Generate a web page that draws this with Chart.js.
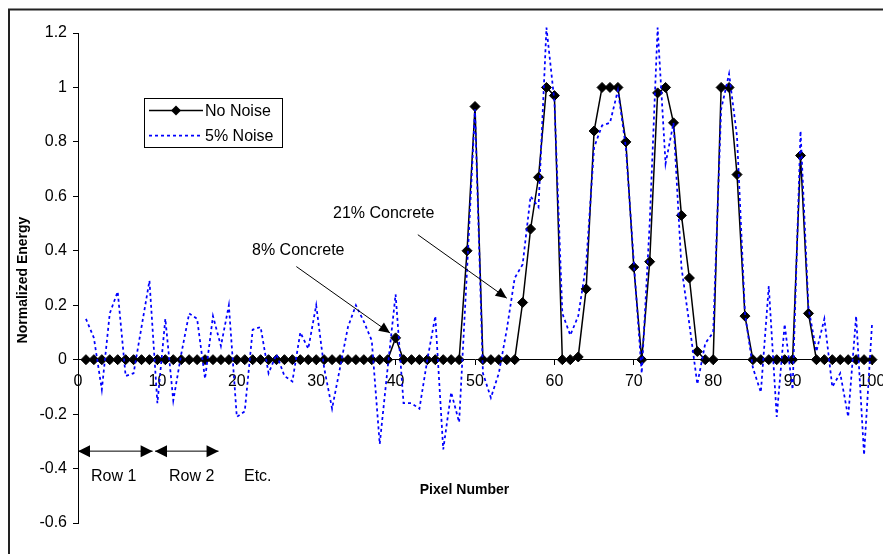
<!DOCTYPE html>
<html>
<head>
<meta charset="utf-8">
<title>Normalized Energy vs Pixel Number</title>
<script src="https://cdn.jsdelivr.net/npm/chart.js@4.4.1/dist/chart.umd.min.js"></script>
<style>
  html, body { margin: 0; padding: 0; background: #ffffff; }
  canvas { display: block; }
</style>
</head>
<body>
<canvas id="chart" width="883" height="554"></canvas>
<script>
// Pixel index along the scan (row 1 = pixels 1-10, row 2 = 11-20, ...)
const pixelNumbers = [
  1, 2, 3, 4, 5, 6, 7, 8, 9, 10,
  11, 12, 13, 14, 15, 16, 17, 18, 19, 20,
  21, 22, 23, 24, 25, 26, 27, 28, 29, 30,
  31, 32, 33, 34, 35, 36, 37, 38, 39, 40,
  41, 42, 43, 44, 45, 46, 47, 48, 49, 50,
  51, 52, 53, 54, 55, 56, 57, 58, 59, 60,
  61, 62, 63, 64, 65, 66, 67, 68, 69, 70,
  71, 72, 73, 74, 75, 76, 77, 78, 79, 80,
  81, 82, 83, 84, 85, 86, 87, 88, 89, 90,
  91, 92, 93, 94, 95, 96, 97, 98, 99, 100
];

// Normalized energy without noise
const noNoise = [
  0, 0, 0, 0, 0, 0, 0, 0, 0, 0,
  0, 0, 0, 0, 0, 0, 0, 0, 0, 0,
  0, 0, 0, 0, 0, 0, 0, 0, 0, 0,
  0, 0, 0, 0, 0, 0, 0, 0, 0, 0.08,
  0, 0, 0, 0, 0, 0, 0, 0, 0.40, 0.93,
  0, 0, 0, 0, 0, 0.21, 0.48, 0.67, 1.00, 0.97,
  0, 0, 0.01, 0.26, 0.84, 1.00, 1.00, 1.00, 0.80, 0.34,
  0, 0.36, 0.98, 1.00, 0.87, 0.53, 0.30, 0.03, 0, 0,
  1.00, 1.00, 0.68, 0.16, 0, 0, 0, 0, 0, 0,
  0.75, 0.17, 0, 0, 0, 0, 0, 0, 0, 0
];

// Normalized energy with 5% noise added
const fivePctNoise = [
  0.15, 0.08, -0.11, 0.17, 0.25, -0.06, -0.05, 0.12, 0.29, -0.16,
  0.15, -0.15, 0.02, 0.17, 0.15, -0.07, 0.16, 0.05, 0.20, -0.21,
  -0.19, 0.11, 0.12, -0.05, 0.02, -0.06, -0.08, 0.10, 0.04, 0.20,
  -0.03, -0.18, -0.03, 0.12, 0.20, 0.14, 0.07, -0.31, -0.03, 0.24,
  -0.16, -0.16, -0.18, 0.00, 0.16, -0.33, -0.12, -0.23, 0.33, 0.92,
  -0.05, -0.14, -0.05, 0.11, 0.30, 0.35, 0.60, 0.56, 1.22, 0.95,
  0.17, 0.09, 0.16, 0.35, 0.78, 0.86, 0.87, 0.99, 0.78, 0.36,
  -0.05, 0.50, 1.22, 0.72, 0.87, 0.34, 0.13, -0.09, 0.06, 0.10,
  0.92, 1.05, 0.82, 0.17, -0.03, -0.12, 0.27, -0.21, 0.13, -0.11,
  0.84, 0.19, 0.03, 0.15, -0.10, -0.05, -0.21, 0.16, -0.35, 0.13
];

const seriesNames = ['No Noise', '5% Noise'];
const xTicks = [0, 10, 20, 30, 40, 50, 60, 70, 80, 90, 100];
const yTicks = [-0.6, -0.4, -0.2, 0, 0.2, 0.4, 0.6, 0.8, 1, 1.2];
const yTickLabels = ['-0.6', '-0.4', '-0.2', '0', '0.2', '0.4', '0.6', '0.8', '1', '1.2'];
const xTitle = 'Pixel Number';
const yTitle = 'Normalized Energy';
const concreteNotes = ['8% Concrete', '21% Concrete'];
const rowNotes = ['Row 1', 'Row 2', 'Etc.'];

const FONT = '"Liberation Sans", Arial, Helvetica, sans-serif';
const INK = '#000000';
const NOISE_BLUE = '#0000ff';

function toPoints(values) {
  return pixelNumbers.map((p, i) => ({ x: p, y: values[i] }));
}

// Filled-head arrow from (x1,y1) to (x2,y2); optional head at the start too
function arrow(ctx, x1, y1, x2, y2, headLen, headHalf, both) {
  const ang = Math.atan2(y2 - y1, x2 - x1);
  const head = (tx, ty, a) => {
    ctx.beginPath();
    ctx.moveTo(tx, ty);
    ctx.lineTo(tx - headLen * Math.cos(a) + headHalf * Math.sin(a),
               ty - headLen * Math.sin(a) - headHalf * Math.cos(a));
    ctx.lineTo(tx - headLen * Math.cos(a) - headHalf * Math.sin(a),
               ty - headLen * Math.sin(a) + headHalf * Math.cos(a));
    ctx.closePath();
    ctx.fill();
  };
  ctx.beginPath();
  ctx.moveTo(x1, y1);
  ctx.lineTo(x2, y2);
  ctx.stroke();
  head(x2, y2, ang);
  if (both) head(x1, y1, ang + Math.PI);
}

// Frame, axis titles, legend and annotations
const decorations = {
  id: 'decorations',
  afterDraw(chart) {
    const { ctx, scales: { x, y } } = chart;
    const px = v => x.getPixelForValue(v);
    const py = v => y.getPixelForValue(v);
    ctx.save();

    // outer frame
    ctx.strokeStyle = '#222222';
    ctx.lineWidth = 2;
    ctx.strokeRect(9, 9.5, 900, 600);

    // axis titles
    ctx.fillStyle = INK;
    ctx.font = 'bold 14px ' + FONT;
    ctx.textAlign = 'center';
    ctx.textBaseline = 'middle';
    ctx.fillText(xTitle, 464.5, 490);
    ctx.save();
    ctx.translate(23, 280);
    ctx.rotate(-Math.PI / 2);
    ctx.fillText(yTitle, 0, 0);
    ctx.restore();

    // legend
    const ds = chart.data.datasets;
    ctx.lineWidth = 1;
    ctx.strokeStyle = INK;
    ctx.strokeRect(144.5, 98.5, 138, 49);
    ctx.font = '16px ' + FONT;
    ctx.textAlign = 'left';
    const rows = [110.5, 135.5];
    ds.forEach((d, i) => {
      const ly = rows[i];
      ctx.save();
      ctx.strokeStyle = d.borderColor;
      ctx.lineWidth = d.borderWidth;
      ctx.setLineDash(d.borderDash || []);
      ctx.beginPath();
      ctx.moveTo(149, ly);
      ctx.lineTo(203, ly);
      ctx.stroke();
      ctx.restore();
      if (d.pointRadius > 0) {
        const r = d.pointRadius;
        ctx.fillStyle = d.pointBackgroundColor;
        ctx.beginPath();
        ctx.moveTo(176, ly - r);
        ctx.lineTo(176 + r, ly);
        ctx.lineTo(176, ly + r);
        ctx.lineTo(176 - r, ly);
        ctx.closePath();
        ctx.fill();
      }
      ctx.fillStyle = INK;
      ctx.fillText(d.label, 205, ly + 1);
    });

    // concrete annotations
    ctx.fillStyle = INK;
    ctx.strokeStyle = INK;
    ctx.lineWidth = 1;
    ctx.font = '16px ' + FONT;
    ctx.textAlign = 'left';
    ctx.fillText(concreteNotes[0], 252, 251);
    ctx.fillText(concreteNotes[1], 333, 214);
    arrow(ctx, px(27.5), py(0.342), px(39.3), py(0.098), 11, 5, false);
    arrow(ctx, px(42.8), py(0.459), px(54.0), py(0.226), 11, 5, false);

    // row spans
    arrow(ctx, px(0), py(-0.336), px(9.4), py(-0.336), 12, 6, true);
    arrow(ctx, px(9.7), py(-0.336), px(17.7), py(-0.336), 12, 6, true);
    ctx.fillText(rowNotes[0], 91, 477);
    ctx.fillText(rowNotes[1], 169, 477);
    ctx.fillText(rowNotes[2], 244, 477);

    ctx.restore();
  }
};

new Chart(document.getElementById('chart'), {
  type: 'line',
  data: {
    datasets: [
      {
        label: seriesNames[0],
        data: toPoints(noNoise),
        borderColor: INK,
        backgroundColor: INK,
        borderWidth: 1.5,
        pointStyle: 'rectRot',
        pointRadius: 5,
        pointBorderWidth: 1,
        pointBackgroundColor: INK,
        pointBorderColor: INK,
        tension: 0,
        order: 1,
        clip: false
      },
      {
        label: seriesNames[1],
        data: toPoints(fivePctNoise),
        borderColor: NOISE_BLUE,
        backgroundColor: NOISE_BLUE,
        borderWidth: 1.75,
        borderDash: [3, 3],
        pointRadius: 0,
        tension: 0,
        order: 0,
        clip: false
      }
    ]
  },
  options: {
    responsive: false,
    animation: false,
    devicePixelRatio: 1,
    layout: { padding: { left: 0, top: 33, right: 11, bottom: 31 } },
    plugins: {
      legend: { display: false },
      tooltip: { enabled: false }
    },
    scales: {
      x: {
        type: 'linear',
        position: { y: 0 },
        min: 0,
        max: 100,
        afterBuildTicks: s => { s.ticks = xTicks.map(v => ({ value: v })); },
        afterFit: s => { s.paddingLeft = 0; s.paddingRight = 0; },
        grid: { drawOnChartArea: false, drawTicks: true, tickLength: 5, color: INK },
        border: { display: true, color: INK, width: 1 },
        ticks: {
          color: INK,
          font: { family: FONT, size: 16 },
          padding: 7,
          maxRotation: 0,
          autoSkip: false,
          callback: v => String(v)
        }
      },
      y: {
        type: 'linear',
        position: 'left',
        min: -0.6,
        max: 1.2,
        afterBuildTicks: s => { s.ticks = yTicks.map(v => ({ value: v })); },
        afterFit: s => { s.width = 78; },
        grid: { drawOnChartArea: false, drawTicks: true, tickLength: 5, color: INK },
        border: { display: true, color: INK, width: 1 },
        ticks: {
          color: INK,
          font: { family: FONT, size: 16 },
          padding: 6,
          autoSkip: false,
          callback: v => {
            const i = yTicks.findIndex(t => Math.abs(t - v) < 1e-9);
            return i >= 0 ? yTickLabels[i] : '';
          }
        }
      }
    }
  },
  plugins: [decorations]
});
</script>
</body>
</html>
